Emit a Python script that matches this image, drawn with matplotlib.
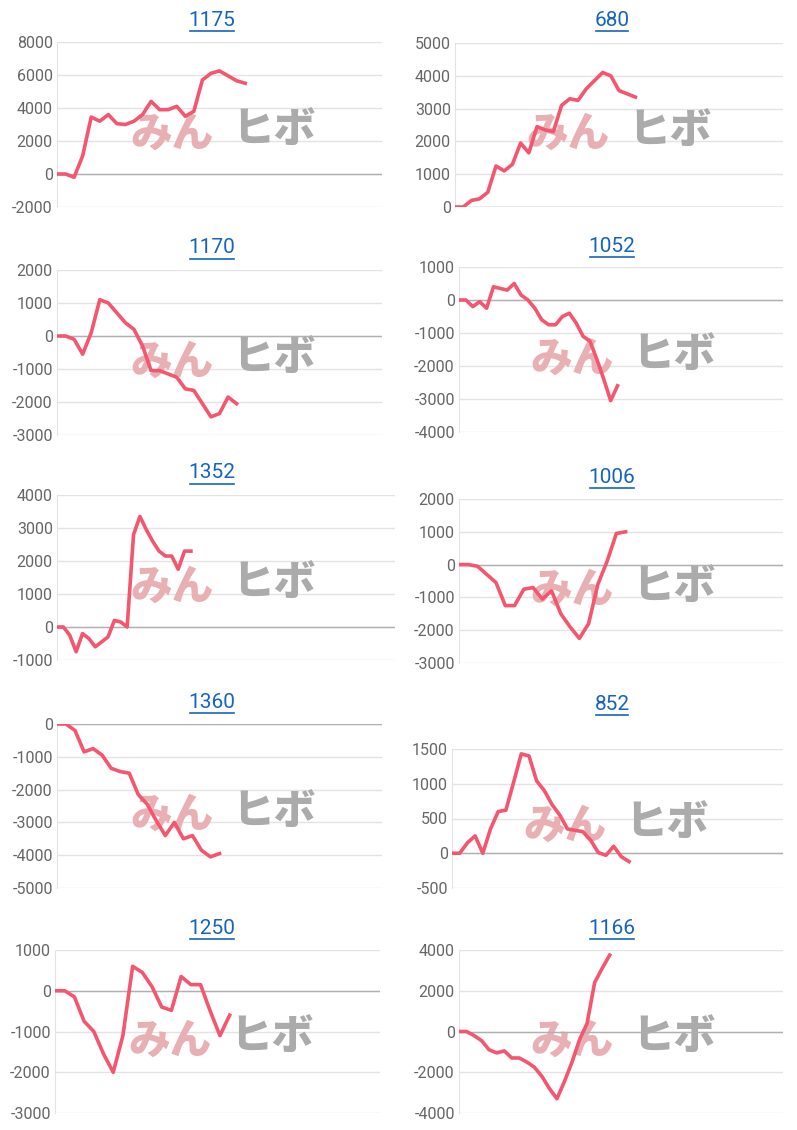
import matplotlib
matplotlib.use("Agg")
import matplotlib.pyplot as plt
from matplotlib.ticker import MultipleLocator

plt.rcParams['axes.unicode_minus'] = False
plt.rcParams['font.family'] = ['Roboto', 'DejaVu Sans']

titles = ["1175", "680", "1170", "1052", "1352", "1006", "1360", "852", "1250", "1166"]
s1175 = [0, 0, -200, 1100, 3450, 3200, 3600, 3050, 3000, 3200, 3600, 4400, 3900, 3900, 4100, 3500, 3800, 5700, 6100, 6250, 5950, 5650, 5500]
s680 = [0, 0, 200, 250, 450, 1250, 1100, 1300, 1950, 1650, 2450, 2350, 2300, 3100, 3300, 3250, 3600, 3850, 4100, 4000, 3550, 3450, 3350]
s1170 = [0, 0, -100, -550, 100, 1100, 1000, 700, 400, 200, -300, -1050, -1050, -1150, -1250, -1600, -1650, -2050, -2450, -2350, -1850, -2050]
s1052 = [0, 0, -200, -50, -250, 400, 350, 300, 500, 150, 0, -250, -600, -750, -750, -500, -400, -700, -1100, -1250, -1800, -2400, -3050, -2600]
s1352 = [0, 0, -250, -750, -200, -350, -600, -450, -300, 200, 150, 0, 2800, 3350, 2950, 2600, 2300, 2150, 2150, 1750, 2300, 2300]
s1006 = [0, 0, -50, -300, -550, -1250, -1250, -750, -700, -1050, -800, -1500, -1900, -2250, -1800, -600, 100, 950, 1000]
s1360 = [0, 0, -200, -850, -750, -950, -1350, -1450, -1500, -2150, -2450, -2950, -3400, -3000, -3500, -3400, -3850, -4050, -3950]
s852 = [0, 0, 150, 250, 0, 350, 600, 620, 1020, 1430, 1400, 1040, 900, 700, 550, 350, 330, 310, 190, 10, -30, 100, -50, -120]
s1250 = [0, 0, -150, -750, -1000, -1550, -2000, -1100, 600, 450, 100, -400, -480, 350, 150, 150, -500, -1100, -600]
s1166 = [0, 0, -200, -450, -900, -1050, -950, -1300, -1300, -1500, -1750, -2200, -2800, -3300, -2450, -1500, -400, 400, 2400, 3100, 3750]
series = [s1175, s680, s1170, s1052, s1352, s1006, s1360, s852, s1250, s1166]
ylims = [(-2000, 8000), (0, 5000), (-3000, 2000), (-4000, 1000), (-1000, 4000),
         (-3000, 2000), (-5000, 0), (-500, 1500), (-3000, 1000), (-4000, 4000)]
ysteps = [2000, 1000, 1000, 1000, 1000, 1000, 1000, 500, 1000, 2000]
xmaxs = [38, 40, 38, 47, 53, 35, 36, 43, 33.5, 43]

W, H = 797, 1130
fig = plt.figure(figsize=(W/100, H/100), dpi=100)
boxes = [(57, 42, 382, 207), (455, 43, 783, 207),
         (57, 270, 382, 435), (459, 267, 783, 432),
         (57, 495, 395, 660), (459, 499, 783, 663),
         (57, 724, 382, 888), (452, 749, 783, 888),
         (55, 950, 380, 1113), (459, 950, 783, 1113)]
title_y = [20, 20, 248, 246, 473, 477, 702, 704, 928, 928]
wm = ["#e9b0b3", "#ababab"]

for i in range(10):
    l, t, r, b = boxes[i]
    ax = fig.add_axes([l/W, 1-b/H, (r-l)/W, (b-t)/H])
    y = series[i]
    ax.plot(range(len(y)), y, color="#f4566f", lw=2.6, zorder=3)
    ax.set_xlim(0, xmaxs[i])
    ax.set_ylim(*ylims[i])
    ax.yaxis.set_major_locator(MultipleLocator(ysteps[i]))
    ax.grid(axis="y", color="#e3e3e3", lw=1)
    ax.axhline(0, color="#b0b0b0", lw=1, zorder=2)
    ax.set_xticks([])
    for s in ["top", "right", "bottom"]:
        ax.spines[s].set_visible(False)
    ax.spines["left"].set_color("#e3e3e3")
    ax.tick_params(axis="y", length=0, labelsize=11.5, labelcolor="#666666", pad=3)
    ax.set_axisbelow(True)
    wx = 130 - 57 if i % 2 == 0 else 530 - 459
    ax.text((wx)/(r-l), 0.44, "みん", transform=ax.transAxes, fontsize=30, fontweight="black",
            style="italic", color=wm[0], va="center", ha="left",
            family=["Noto Sans CJK JP", "DejaVu Sans"], zorder=1)
    ax.text((wx+102)/(r-l), 0.46, "ヒボ", transform=ax.transAxes, fontsize=30, fontweight="black",
            style="italic", color=wm[1], va="center", ha="left",
            family=["Noto Sans CJK JP", "DejaVu Sans"], zorder=1)
    cx = 212 if i % 2 == 0 else 612
    fig.text(cx/W, 1-title_y[i]/H, titles[i], ha="center", va="center",
             fontsize=15, color="#1565c0")
    tw = len(titles[i]) * 10.8
    fig.add_artist(plt.Line2D([(cx-tw/2)/W, (cx+tw/2)/W], [1-(title_y[i]+11)/H]*2,
                              color="#1565c0", lw=1.2))

fig.savefig("out.png", dpi=100, facecolor="white")
